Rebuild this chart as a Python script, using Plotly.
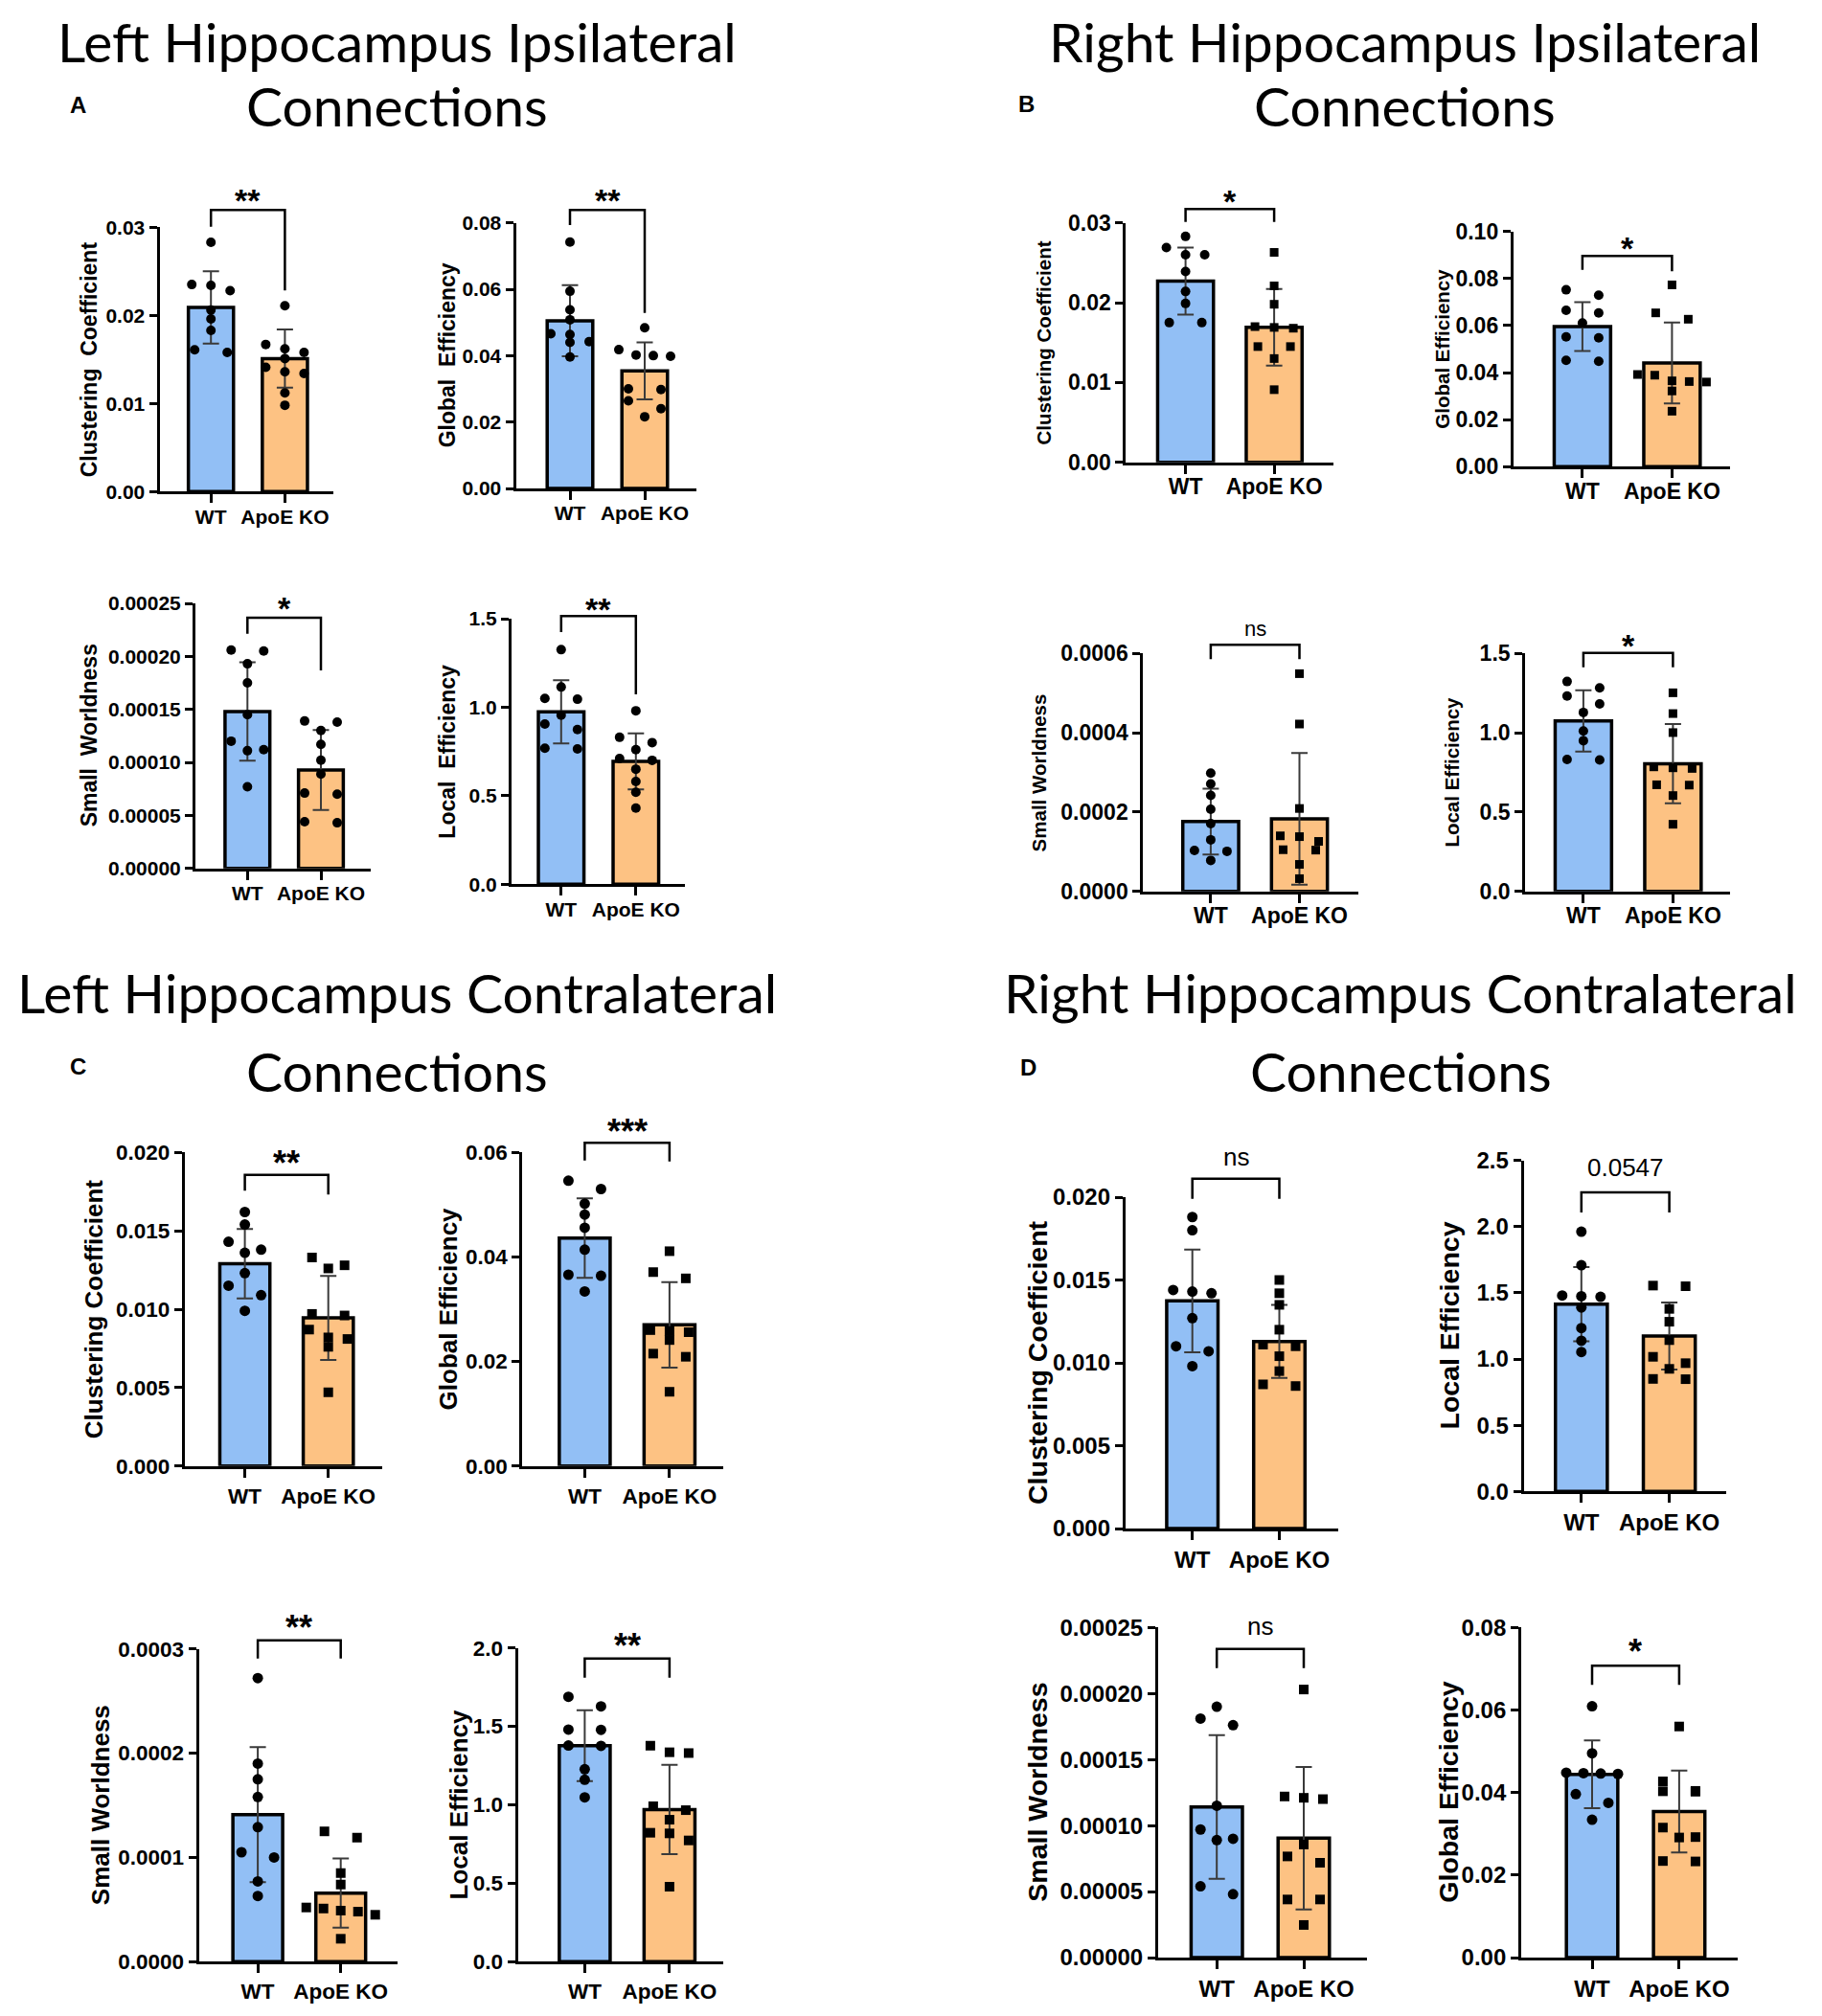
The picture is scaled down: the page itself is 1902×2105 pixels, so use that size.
import plotly.graph_objects as go

W, H = 1902, 2105
OFF = 8                      # default <body> margin of the written page
FW, FH = W - 2 * OFF, H - 2 * OFF

categories = ["WT", "ApoE KO"]

# ---------------- data (mean, SD, individual animals) ----------------
# Panel A: Left hippocampus ipsilateral
A_clust_mean = [0.0209, 0.0151]
A_clust_sd = [0.0041, 0.0033]
A_clust_wt = [0.0283, 0.0235, 0.0234, 0.0228, 0.0206, 0.0196, 0.0183, 0.0161, 0.0158]
A_clust_ko = [0.0211, 0.0167, 0.0162, 0.0158, 0.0151, 0.0141, 0.0136, 0.0134, 0.0112, 0.0098]

A_geff_mean = [0.0505, 0.0354]
A_geff_sd = [0.0107, 0.0086]
A_geff_wt = [0.0742, 0.0594, 0.0538, 0.0508, 0.0466, 0.0464, 0.0442, 0.0440, 0.0396]
A_geff_ko = [0.0484, 0.0418, 0.0402, 0.0400, 0.0398, 0.0300, 0.0298, 0.0264, 0.0240, 0.0216]

A_sw_mean = [0.000148, 0.0000928]
A_sw_sd = [0.0000465, 0.0000378]
A_sw_wt = [0.000206, 0.000205, 0.000193, 0.000175, 0.000145, 0.000120, 0.000112, 0.000111, 0.000077]
A_sw_ko = [0.000139, 0.000138, 0.000130, 0.000117, 0.000102, 0.000089, 0.000071, 0.000070, 0.000044, 0.000043]

A_leff_mean = [0.974, 0.694]
A_leff_sd = [0.178, 0.158]
A_leff_wt = [1.325, 1.114, 1.050, 1.045, 0.955, 0.905, 0.874, 0.768, 0.764]
A_leff_ko = [0.980, 0.830, 0.800, 0.760, 0.710, 0.700, 0.650, 0.580, 0.520, 0.430]

# Panel B: Right hippocampus ipsilateral
B_clust_mean = [0.0227, 0.0169]
B_clust_sd = [0.0042, 0.0048]
B_clust_wt = [0.0283, 0.0269, 0.0260, 0.0260, 0.0239, 0.0214, 0.0199, 0.0175, 0.0175]
B_clust_ko = [0.0263, 0.0221, 0.0198, 0.0170, 0.0169, 0.0168, 0.0145, 0.0145, 0.0130, 0.0091]

B_geff_mean = [0.0596, 0.0441]
B_geff_sd = [0.0104, 0.0172]
B_geff_wt = [0.0752, 0.0729, 0.0665, 0.0654, 0.0611, 0.0552, 0.0548, 0.0452, 0.0448]
B_geff_ko = [0.0773, 0.0654, 0.0627, 0.0392, 0.0389, 0.0365, 0.0362, 0.0360, 0.0322, 0.0236]

B_sw_mean = [0.000176, 0.000183]
B_sw_sd = [0.000083, 0.000166]
B_sw_wt = [0.000298, 0.000271, 0.000242, 0.000207, 0.000171, 0.000130, 0.000103, 0.000101, 0.000078]
B_sw_ko = [0.000549, 0.000422, 0.000209, 0.000140, 0.000138, 0.000126, 0.000105, 0.000104, 0.000068, 0.000032]

B_leff_mean = [1.075, 0.805]
B_leff_sd = [0.193, 0.250]
B_leff_wt = [1.323, 1.283, 1.232, 1.182, 1.128, 1.011, 0.950, 0.832, 0.828]
B_leff_ko = [1.252, 1.121, 1.001, 0.785, 0.779, 0.775, 0.672, 0.670, 0.604, 0.423]

# Panel C: Left hippocampus contralateral
C_clust_mean = [0.0129, 0.00945]
C_clust_sd = [0.00222, 0.00268]
C_clust_wt = [0.0162, 0.0154, 0.0143, 0.0138, 0.0136, 0.0123, 0.0115, 0.0109, 0.0099]
C_clust_ko = [0.0133, 0.0128, 0.0126, 0.0097, 0.0096, 0.0087, 0.0082, 0.0081, 0.0076, 0.0047]

C_geff_mean = [0.0436, 0.0270]
C_geff_sd = [0.0076, 0.0082]
C_geff_wt = [0.0546, 0.0530, 0.0502, 0.0481, 0.0456, 0.0414, 0.0366, 0.0364, 0.0334]
C_geff_ko = [0.0411, 0.0371, 0.0359, 0.0260, 0.0258, 0.0256, 0.0241, 0.0215, 0.0209, 0.0142]

C_sw_mean = [0.000141, 0.0000658]
C_sw_sd = [0.0000648, 0.0000332]
C_sw_wt = [0.000272, 0.000190, 0.000175, 0.000158, 0.000129, 0.000105, 0.000100, 0.000077, 0.000063]
C_sw_ko = [0.000125, 0.000119, 0.000085, 0.000074, 0.000052, 0.000051, 0.000049, 0.000048, 0.000045, 0.000022]

C_leff_mean = [1.377, 0.970]
C_leff_sd = [0.226, 0.285]
C_leff_wt = [1.689, 1.628, 1.480, 1.478, 1.378, 1.376, 1.227, 1.160, 1.048]
C_leff_ko = [1.377, 1.335, 1.330, 0.991, 0.966, 0.905, 0.822, 0.818, 0.773, 0.478]

# Panel D: Right hippocampus contralateral
D_clust_mean = [0.01374, 0.01129]
D_clust_sd = [0.0031, 0.0022]
D_clust_wt = [0.0188, 0.0180, 0.0144, 0.0143, 0.0142, 0.0127, 0.0110, 0.0107, 0.0098]
D_clust_ko = [0.0150, 0.0142, 0.0135, 0.0120, 0.0111, 0.0110, 0.0104, 0.0095, 0.0087, 0.0086]

D_leff_mean = [1.415, 1.174]
D_leff_sd = [0.280, 0.253]
D_leff_wt = [1.962, 1.709, 1.480, 1.475, 1.470, 1.390, 1.234, 1.138, 1.053]
D_leff_ko = [1.555, 1.550, 1.379, 1.282, 1.143, 1.017, 0.969, 0.926, 0.850, 0.848]

D_sw_mean = [0.0001141, 0.0000904]
D_sw_sd = [0.0000544, 0.0000540]
D_sw_wt = [0.000190, 0.000181, 0.000176, 0.000115, 0.000097, 0.000090, 0.000089, 0.000054, 0.000048]
D_sw_ko = [0.000203, 0.000122, 0.000121, 0.000120, 0.0000856, 0.0000766, 0.0000718, 0.000044, 0.000044, 0.0000247]

D_geff_mean = [0.0444, 0.0354]
D_geff_sd = [0.0082, 0.0099]
D_geff_wt = [0.0609, 0.0495, 0.0448, 0.0447, 0.0446, 0.0445, 0.0396, 0.0375, 0.0334]
D_geff_ko = [0.0560, 0.0427, 0.0404, 0.0403, 0.0402, 0.0315, 0.0292, 0.0291, 0.0234, 0.0233]

# ---------------- styling ----------------
BLUE = "#92BFF5"
ORANGE = "#FDC283"
SANS = "Liberation Sans, Arial, sans-serif"
TITLE_FONT = "Lato, Open Sans, sans-serif"
TITLE_SIZE = 57

panels = {
    "A": dict(title=["Left Hippocampus Ipsilateral", "Connections"], tx=414, ty=[43, 110],
              letter=(81, 110), tick=21, ytf=23, star=34, ns=22, msize=10, ko_symbol="circle", bw=0.61,
              xstand=-4),
    "B": dict(title=["Right Hippocampus Ipsilateral", "Connections"], tx=1466, ty=[43, 110],
              letter=(1071, 108), tick=23, ytf=20.5, star=34, ns=22, msize=10, ko_symbol="square", bw=0.63,
              xstand=-6),
    "C": dict(title=["Left Hippocampus Contralateral", "Connections"], tx=414, ty=[1036, 1118],
              letter=(81, 1113), tick=22.5, ytf=26, star=36, ns=24, msize=11, ko_symbol="square", bw=0.60,
              xstand=0),
    "D": dict(title=["Right Hippocampus Contralateral", "Connections"], tx=1462, ty=[1036, 1118],
              letter=(1073, 1114), tick=24, ytf=28.5, star=36, ns=26, msize=11, ko_symbol="square", bw=0.59,
              xstand=0),
}

# subplot geometry in reference-image pixels
subplots = [
    dict(panel="A", ytitle="Clustering  Coefficient", mean=A_clust_mean, sd=A_clust_sd, wt=A_clust_wt, ko=A_clust_ko,
         sig="**", top=0.03, dtick=0.01, fmt=".2f", xl=166.5, xr=347.9, y0=513.3, yt=237.3,
         wt_px=220.2, ko_px=297.4, br=219.3, leg=(236.7, 303.3), sig_y=201.7, ytx=93),
    dict(panel="A", ytitle="Global  Efficiency", mean=A_geff_mean, sd=A_geff_sd, wt=A_geff_wt, ko=A_geff_ko,
         sig="**", top=0.08, dtick=0.02, fmt=".2f", xl=538.5, xr=726.7, y0=510.0, yt=232.7,
         wt_px=595.0, ko_px=673.0, br=219.3, leg=(235.0, 326.7), sig_y=201.7, ytx=467),
    dict(panel="A", ytitle="Small  Worldness", mean=A_sw_mean, sd=A_sw_sd, wt=A_sw_wt, ko=A_sw_ko,
         sig="*", top=0.00025, dtick=0.00005, fmt=".5f", xl=204.0, xr=386.9, y0=906.7, yt=630.0,
         wt_px=258.3, ko_px=335.0, br=645.0, leg=(661.7, 700.0), sig_y=628.0, ytx=93),
    dict(panel="A", ytitle="Local  Efficiency", mean=A_leff_mean, sd=A_leff_sd, wt=A_leff_wt, ko=A_leff_ko,
         sig="**", top=1.5, dtick=0.5, fmt=".1f", xl=533.9, xr=715.2, y0=923.3, yt=646.0,
         wt_px=585.8, ko_px=663.8, br=643.3, leg=(660.0, 725.0), sig_y=628.3, ytx=467),

    dict(panel="B", ytitle="Clustering Coefficient", mean=B_clust_mean, sd=B_clust_sd, wt=B_clust_wt, ko=B_clust_ko,
         sig="*", top=0.03, dtick=0.01, fmt=".2f", xl=1175.4, xr=1392.3, y0=482.7, yt=232.7,
         wt_px=1237.6, ko_px=1330.1, br=218.3, leg=(231.7, 231.7), sig_y=202.7, ytx=1089.8),
    dict(panel="B", ytitle="Global Efficiency", mean=B_geff_mean, sd=B_geff_sd, wt=B_geff_wt, ko=B_geff_ko,
         sig="*", top=0.10, dtick=0.02, fmt=".2f", xl=1579.8, xr=1806.1, y0=487.3, yt=241.7,
         wt_px=1651.9, ko_px=1745.4, br=267.3, leg=(281.7, 283.3), sig_y=251.7, ytx=1505.2),
    dict(panel="B", ytitle="Small Worldness", mean=B_sw_mean, sd=B_sw_sd, wt=B_sw_wt, ko=B_sw_ko,
         sig="ns", top=0.0006, dtick=0.0002, fmt=".4f", xl=1193.3, xr=1418.1, y0=930.7, yt=682.3,
         wt_px=1263.9, ko_px=1356.5, br=673.3, leg=(688.3, 688.3), sig_y=656.0, ytx=1084.9),
    dict(panel="B", ytitle="Local Efficiency", mean=B_leff_mean, sd=B_leff_sd, wt=B_leff_wt, ko=B_leff_ko,
         sig="*", top=1.5, dtick=0.5, fmt=".1f", xl=1592.2, xr=1806.1, y0=930.7, yt=682.3,
         wt_px=1652.9, ko_px=1746.4, br=681.7, leg=(696.7, 696.7), sig_y=666.7, ytx=1515.1),

    dict(panel="C", ytitle="Clustering Coefficient", mean=C_clust_mean, sd=C_clust_sd, wt=C_clust_wt, ko=C_clust_ko,
         sig="**", top=0.020, dtick=0.005, fmt=".3f", xl=192.7, xr=398.5, y0=1530.7, yt=1203.3,
         wt_px=255.6, ko_px=342.7, br=1226.7, leg=(1243.3, 1247.3), sig_y=1206.7, ytx=98.2),
    dict(panel="C", ytitle="Global Efficiency", mean=C_geff_mean, sd=C_geff_sd, wt=C_geff_wt, ko=C_geff_ko,
         sig="***", top=0.06, dtick=0.02, fmt=".2f", xl=545.2, xr=754.7, y0=1530.7, yt=1203.3,
         wt_px=610.4, ko_px=698.9, br=1193.3, leg=(1211.7, 1212.7), sig_y=1173.3, ytx=468.4),
    dict(panel="C", ytitle="Small Worldness", mean=C_sw_mean, sd=C_sw_sd, wt=C_sw_wt, ko=C_sw_ko,
         sig="**", top=0.0003, dtick=0.0001, fmt=".4f", xl=207.6, xr=414.8, y0=2048.3, yt=1721.7,
         wt_px=269.1, ko_px=355.7, br=1712.7, leg=(1731.7, 1731.7), sig_y=1691.7, ytx=105.2),
    dict(panel="C", ytitle="Local Efficiency", mean=C_leff_mean, sd=C_leff_sd, wt=C_leff_wt, ko=C_leff_ko,
         sig="**", top=2.0, dtick=0.5, fmt=".1f", xl=540.5, xr=754.7, y0=2048.3, yt=1720.7,
         wt_px=610.4, ko_px=698.9, br=1731.7, leg=(1751.7, 1751.7), sig_y=1710.7, ytx=478.0),

    dict(panel="D", ytitle="Clustering Coefficient", mean=D_clust_mean, sd=D_clust_sd, wt=D_clust_wt, ko=D_clust_ko,
         sig="ns", top=0.020, dtick=0.005, fmt=".3f", xl=1174.8, xr=1396.7, y0=1596.0, yt=1250.0,
         wt_px=1244.7, ko_px=1335.5, br=1230.7, leg=(1251.7, 1251.7), sig_y=1208.3, ytx=1083.0),
    dict(panel="D", ytitle="Local Efficiency", mean=D_leff_mean, sd=D_leff_sd, wt=D_leff_wt, ko=D_leff_ko,
         sig="0.0547", top=2.5, dtick=0.5, fmt=".1f", xl=1590.6, xr=1802.3, y0=1557.3, yt=1211.7,
         wt_px=1650.8, ko_px=1742.6, br=1245.0, leg=(1266.0, 1266.0), sig_y=1218.7, ytx=1512.0),
    dict(panel="D", ytitle="Small Worldness", mean=D_sw_mean, sd=D_sw_sd, wt=D_sw_wt, ko=D_sw_ko,
         sig="ns", top=0.00025, dtick=0.00005, fmt=".5f", xl=1209.0, xr=1427.3, y0=2044.0, yt=1699.3,
         wt_px=1270.2, ko_px=1361.0, br=1721.7, leg=(1741.7, 1741.7), sig_y=1698.3, ytx=1083.0),
    dict(panel="D", ytitle="Global Efficiency", mean=D_geff_mean, sd=D_geff_sd, wt=D_geff_wt, ko=D_geff_ko,
         sig="*", top=0.08, dtick=0.02, fmt=".2f", xl=1588.1, xr=1814.1, y0=2044.0, yt=1699.3,
         wt_px=1662.0, ko_px=1752.9, br=1739.3, leg=(1759.3, 1759.3), sig_y=1716.7, ytx=1512.0),
]

ROW_PATTERNS = {1: [0], 2: [-17, 17], 3: [-20, 0, 20], 4: [-27, -9, 9, 27], 5: [-36, -18, 0, 18, 36]}


def swarm_offsets(vals, px_per_unit, sp_px, diam=8.0):
    """Spread points that would overlap into horizontal rows (Prism-like scatter)."""
    order = sorted(range(len(vals)), key=lambda k: -vals[k])
    rows = []
    for k in order:
        if rows and (vals[rows[-1][0]] - vals[k]) * px_per_unit < diam and len(rows[-1]) < 5:
            rows[-1].append(k)
        else:
            rows.append([k])
    offs = [0.0] * len(vals)
    for row in rows:
        for k, p in zip(row, ROW_PATTERNS[len(row)]):
            offs[k] = p / sp_px
    return offs


def px(x):
    return (x - OFF) / FW


def py(y):
    return 1 - (y - OFF) / FH


fig = go.Figure()
annotations = []
shapes = []
layout_axes = {}

for i, s in enumerate(subplots):
    n = i + 1
    xa = "x" if n == 1 else f"x{n}"
    ya = "y" if n == 1 else f"y{n}"
    P = panels[s["panel"]]
    sp = s["ko_px"] - s["wt_px"]
    x_lo = -(s["wt_px"] - s["xl"]) / sp
    x_hi = 1 + (s["xr"] - s["ko_px"]) / sp
    pos = list(range(len(categories)))
    px_per_unit = (s["y0"] - s["yt"]) / s["top"]

    fig.add_trace(go.Bar(
        x=pos, y=s["mean"], width=P["bw"],
        marker=dict(color=[BLUE, ORANGE], line=dict(color="black", width=3.5)),
        error_y=dict(type="data", array=s["sd"], visible=True, color="#3a3a3a", thickness=2, width=8.5),
        xaxis=xa, yaxis=ya, showlegend=False, hoverinfo="skip"))

    for g, (vals, sym) in enumerate([(s["wt"], "circle"), (s["ko"], P["ko_symbol"])]):
        offs = swarm_offsets(vals, px_per_unit, sp, diam=P["msize"] - 1)
        fig.add_trace(go.Scatter(
            x=[g + o for o in offs], y=vals, mode="markers",
            marker=dict(symbol=sym, size=P["msize"] if sym == "circle" else P["msize"] - 1,
                        color="black", line=dict(width=0)),
            cliponaxis=False, xaxis=xa, yaxis=ya, showlegend=False, hoverinfo="skip"))

    nt = int(round(s["top"] / s["dtick"]))
    tickvals = [round(k * s["dtick"], 10) for k in range(nt + 1)]
    tfont = dict(family=SANS, size=P["tick"], color="black", weight="bold")

    layout_axes[f"xaxis{'' if n == 1 else n}"] = dict(
        domain=[px(s["xl"]), px(s["xr"])], anchor=ya, range=[x_lo, x_hi],
        tickmode="array", tickvals=pos, ticktext=categories, ticks="outside", ticklen=9,
        tickwidth=2.5, tickcolor="black", showline=True, linewidth=3, linecolor="black",
        showgrid=False, zeroline=False, tickfont=tfont, fixedrange=True,
        ticklabelstandoff=P["xstand"], automargin=False)
    layout_axes[f"yaxis{'' if n == 1 else n}"] = dict(
        domain=[py(s["y0"]), py(s["yt"])], anchor=xa, range=[0, s["top"]],
        tickmode="array", tickvals=tickvals, tickformat=s["fmt"], ticks="outside", ticklen=8,
        tickwidth=2.5, tickcolor="black", showline=True, linewidth=3, linecolor="black",
        showgrid=False, zeroline=False, tickfont=tfont, fixedrange=True, automargin=False)

    # y-axis title
    annotations.append(dict(
        x=px(s["ytx"]), y=py((s["y0"] + s["yt"]) / 2), xref="paper", yref="paper",
        text=s["ytitle"], textangle=-90, showarrow=False, xanchor="center", yanchor="middle",
        font=dict(family=SANS, size=P["ytf"], color="black", weight="bold")))

    # significance bracket
    x1, x2 = s["wt_px"], s["ko_px"]
    path = (f"M {px(x1)},{py(s['leg'][0])} L {px(x1)},{py(s['br'])} "
            f"L {px(x2)},{py(s['br'])} L {px(x2)},{py(s['leg'][1])}")
    shapes.append(dict(type="path", path=path, xref="paper", yref="paper",
                       line=dict(color="black", width=2.5)))
    is_star = s["sig"].startswith("*")
    sig_font = dict(family=SANS, color="black",
                    size=P["star"] if is_star else P["ns"],
                    weight="bold" if is_star else "normal")
    annotations.append(dict(
        x=px((x1 + x2) / 2), y=py(s["sig_y"] + (0.22 * P["star"] if is_star else 0)),
        xref="paper", yref="paper", text=s["sig"], showarrow=False,
        xanchor="center", yanchor="middle", font=sig_font))

# panel titles & letters
for key, P in panels.items():
    for line, yy in zip(P["title"], P["ty"]):
        annotations.append(dict(
            x=px(P["tx"]), y=py(yy), xref="paper", yref="paper", text=line, showarrow=False,
            xanchor="center", yanchor="middle",
            font=dict(family=TITLE_FONT, size=TITLE_SIZE, color="black")))
    annotations.append(dict(
        x=px(P["letter"][0]), y=py(P["letter"][1]), xref="paper", yref="paper",
        text=key, showarrow=False, xanchor="center", yanchor="middle",
        font=dict(family=SANS, size=24, color="black", weight="bold")))

fig.update_layout(
    width=FW, height=FH, margin=dict(l=0, r=0, t=0, b=0, autoexpand=False),
    paper_bgcolor="white", plot_bgcolor="white",
    annotations=annotations, shapes=shapes, **layout_axes)

fig.write_html("out.html")
